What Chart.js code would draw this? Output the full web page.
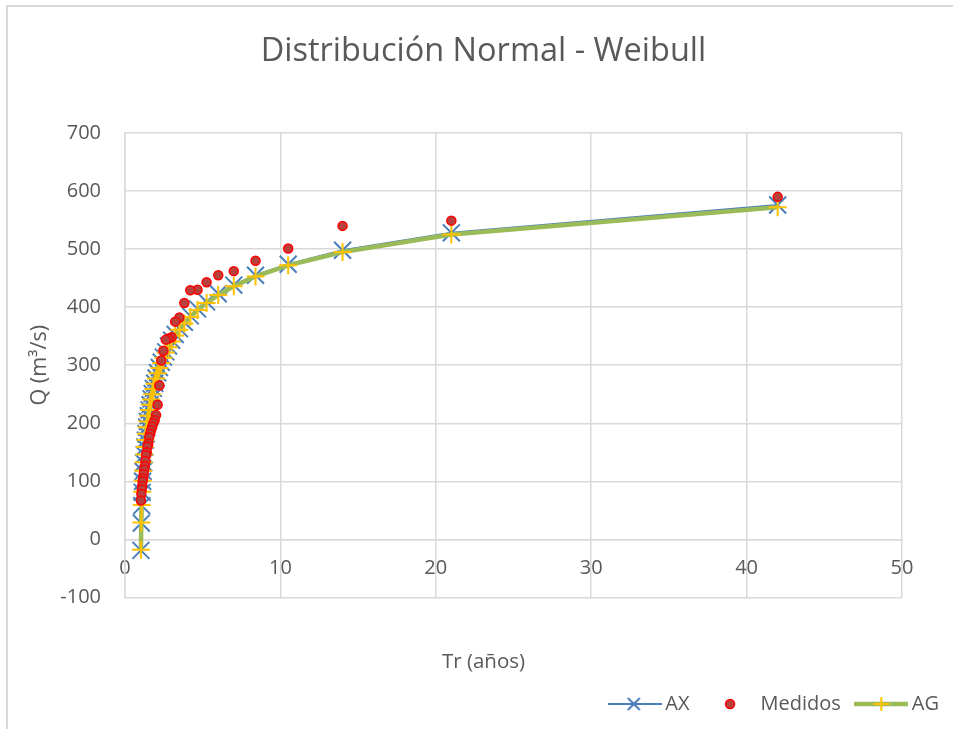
<!DOCTYPE html>
<html>
<head>
<meta charset="utf-8">
<script src="https://cdn.jsdelivr.net/npm/chart.js@4.4.0/dist/chart.umd.min.js"></script>
<style>
html, body { margin: 0; padding: 0; background: #fff; }
#wrap { width: 953px; height: 729px; }
</style>
</head>
<body>
<div id="wrap"><canvas id="weibullChart" width="953" height="729"></canvas></div>
<script>
// Periodo de retorno Tr (años), Weibull: (n+1)/m
const tr = [42, 21, 14, 10.5, 8.4, 7, 6, 5.25, 4.667, 4.2, 3.818, 3.5, 3.231, 3, 2.8,
  2.625, 2.471, 2.333, 2.211, 2.1, 2, 1.909, 1.826, 1.75, 1.68, 1.615, 1.556, 1.5,
  1.448, 1.4, 1.355, 1.3125, 1.273, 1.235, 1.2, 1.167, 1.135, 1.105, 1.077, 1.05, 1.024];

// caudales (m3/s)
const qAX = [576, 528, 498, 474, 455, 438, 423, 409, 397, 385, 374, 363, 353, 343, 333,
  323, 314, 305, 296, 287, 278, 269, 260, 251, 242, 232, 223, 213, 203, 193, 182,
  171, 159, 146, 132, 117, 100, 81, 58, 28, -19];
const qMedidos = [590, 549, 540, 501, 480, 462, 455, 443, 430, 429, 407, 382, 375, 348, 346,
  344, 325, 308, 265, 232, 214, 205, 200, 194, 188, 182, 176, 165, 160, 150, 145,
  135, 126, 120, 112, 105, 100, 92, 86, 78, 67];
const qAG = [572, 525, 495, 472, 453, 436, 421, 407, 395, 383, 372, 361, 351, 341, 331,
  322, 313, 304, 295, 286, 277, 268, 259, 250, 241, 232, 223, 213, 203, 193, 182,
  171, 159, 146, 133, 118, 101, 82, 59, 29, -18];

const xTicks = [0, 10, 20, 30, 40, 50];
const yTicks = [-100, 0, 100, 200, 300, 400, 500, 600, 700];

const toPoints = ys => tr.map((t, i) => ({ x: t, y: ys[i] }));

const blue = '#4A7EBB';
const green = '#9BBB59';
const gold = '#FFC000';
const gridGray = '#d9d9d9';
const textGray = '#595959';

Chart.defaults.font.family = "'Open Sans', sans-serif";
Chart.defaults.color = textGray;

// iconos de leyenda estilo Excel (linea + marcador)
function legendIcon(draw) {
    const c = document.createElement('canvas');
    c.width = 54;
    c.height = 20;
    draw(c.getContext('2d'));
    return c;
}
const iconAX = legendIcon(g => {
    g.strokeStyle = blue; g.lineWidth = 2;
    g.beginPath(); g.moveTo(0, 10); g.lineTo(54, 10); g.stroke();
    g.beginPath(); g.moveTo(20, 4); g.lineTo(32, 16); g.moveTo(32, 4); g.lineTo(20, 16); g.stroke();
});
const iconMedidos = legendIcon(g => {
    g.fillStyle = '#B8403D'; g.strokeStyle = '#FF0000'; g.lineWidth = 1.5;
    g.beginPath(); g.arc(27, 10, 4.5, 0, Math.PI * 2); g.fill(); g.stroke();
});
const iconAG = legendIcon(g => {
    g.strokeStyle = green; g.lineWidth = 4.5;
    g.beginPath(); g.moveTo(0, 10); g.lineTo(54, 10); g.stroke();
    g.strokeStyle = gold; g.lineWidth = 2;
    g.beginPath(); g.moveTo(19, 10); g.lineTo(35, 10); g.moveTo(27, 3); g.lineTo(27, 17); g.stroke();
});
const icons = [iconAX, iconMedidos, iconAG];

const frame = {
    id: 'frame',
    beforeDraw(chart) {
        const c = chart.ctx;
        c.save();
        c.fillStyle = '#fff';
        c.fillRect(0, 0, chart.width, chart.height);
        c.restore();
    },
    afterDraw(chart) {
        const c = chart.ctx;
        c.save();
        c.strokeStyle = gridGray;
        c.lineWidth = 2;
        c.beginPath();
        c.moveTo(7, chart.height);
        c.lineTo(7, 6);
        c.lineTo(chart.width, 6);
        c.stroke();
        c.restore();
    }
};

const ctx = document.getElementById('weibullChart').getContext('2d');
const weibullChart = new Chart(ctx, {
    type: 'scatter',
    data: {
        datasets: [{
            label: 'AX',
            data: toPoints(qAX),
            showLine: true,
            borderColor: blue,
            borderWidth: 2,
            pointStyle: 'crossRot',
            pointRadius: 12,
            pointBorderColor: blue,
            pointBorderWidth: 2,
            order: 3
        }, {
            label: 'Medidos',
            data: toPoints(qMedidos),
            showLine: false,
            pointStyle: 'circle',
            pointRadius: 4.5,
            pointBackgroundColor: '#B8403D',
            pointBorderColor: '#FF0000',
            pointBorderWidth: 1.5,
            order: 1
        }, {
            label: 'AG',
            data: toPoints(qAG),
            showLine: true,
            borderColor: green,
            borderWidth: 4.5,
            pointStyle: 'cross',
            pointRadius: 9,
            pointBorderColor: gold,
            pointBorderWidth: 2,
            order: 2
        }]
    },
    options: {
        responsive: false,
        animation: false,
        layout: { padding: { top: 0, left: 8, right: -6, bottom: 5 } },
        scales: {
            x: {
                type: 'linear',
                min: xTicks[0],
                max: xTicks[xTicks.length - 1],
                position: { y: 0 },
                afterBuildTicks: s => { s.ticks = xTicks.map(v => ({ value: v })); },
                ticks: { padding: 17, font: { size: 20 } },
                grid: { color: gridGray, lineWidth: 1.5, drawTicks: false },
                border: { color: gridGray, width: 1.5 }
            },
            y: {
                min: yTicks[0],
                max: yTicks[yTicks.length - 1],
                afterBuildTicks: s => { s.ticks = yTicks.map(v => ({ value: v })); },
                ticks: { padding: 24, font: { size: 20 } },
                grid: { color: gridGray, lineWidth: 1.5, drawTicks: false },
                border: { color: gridGray, width: 1.5 },
                title: { display: true, text: 'Q (m³/s)', font: { size: 21.5 }, padding: { top: 19, bottom: 0 } },
                afterFit: s => { s.width = 117; }
            },
            yRight: {
                type: 'linear',
                position: 'right',
                grid: { display: false },
                border: { display: false },
                ticks: { display: false },
                afterFit: s => { s.width = 57; }
            }
        },
        plugins: {
            title: {
                display: true,
                text: 'Distribución Normal - Weibull',
                font: { size: 32.5, weight: 'normal' },
                color: textGray,
                padding: { top: 32, bottom: 62 }
            },
            subtitle: {
                display: true,
                text: 'Tr (años)',
                position: 'bottom',
                font: { size: 20.5 },
                color: textGray,
                padding: { top: 52, bottom: 0 }
            },
            legend: {
                display: true,
                position: 'bottom',
                align: 'end',
                weight: 3000,
                labels: {
                    usePointStyle: true,
                    pointStyleWidth: 41,
                    padding: 20,
                    font: { size: 20 },
                    color: textGray,
                    generateLabels: chart => {
                        const items = Chart.defaults.plugins.legend.labels.generateLabels(chart);
                        items.forEach(it => { it.pointStyle = icons[it.datasetIndex]; });
                        return items;
                    },
                    sort: (a, b) => a.datasetIndex - b.datasetIndex
                }
            },
            tooltip: { enabled: false }
        }
    },
    plugins: [frame]
});
</script>
</body>
</html>
